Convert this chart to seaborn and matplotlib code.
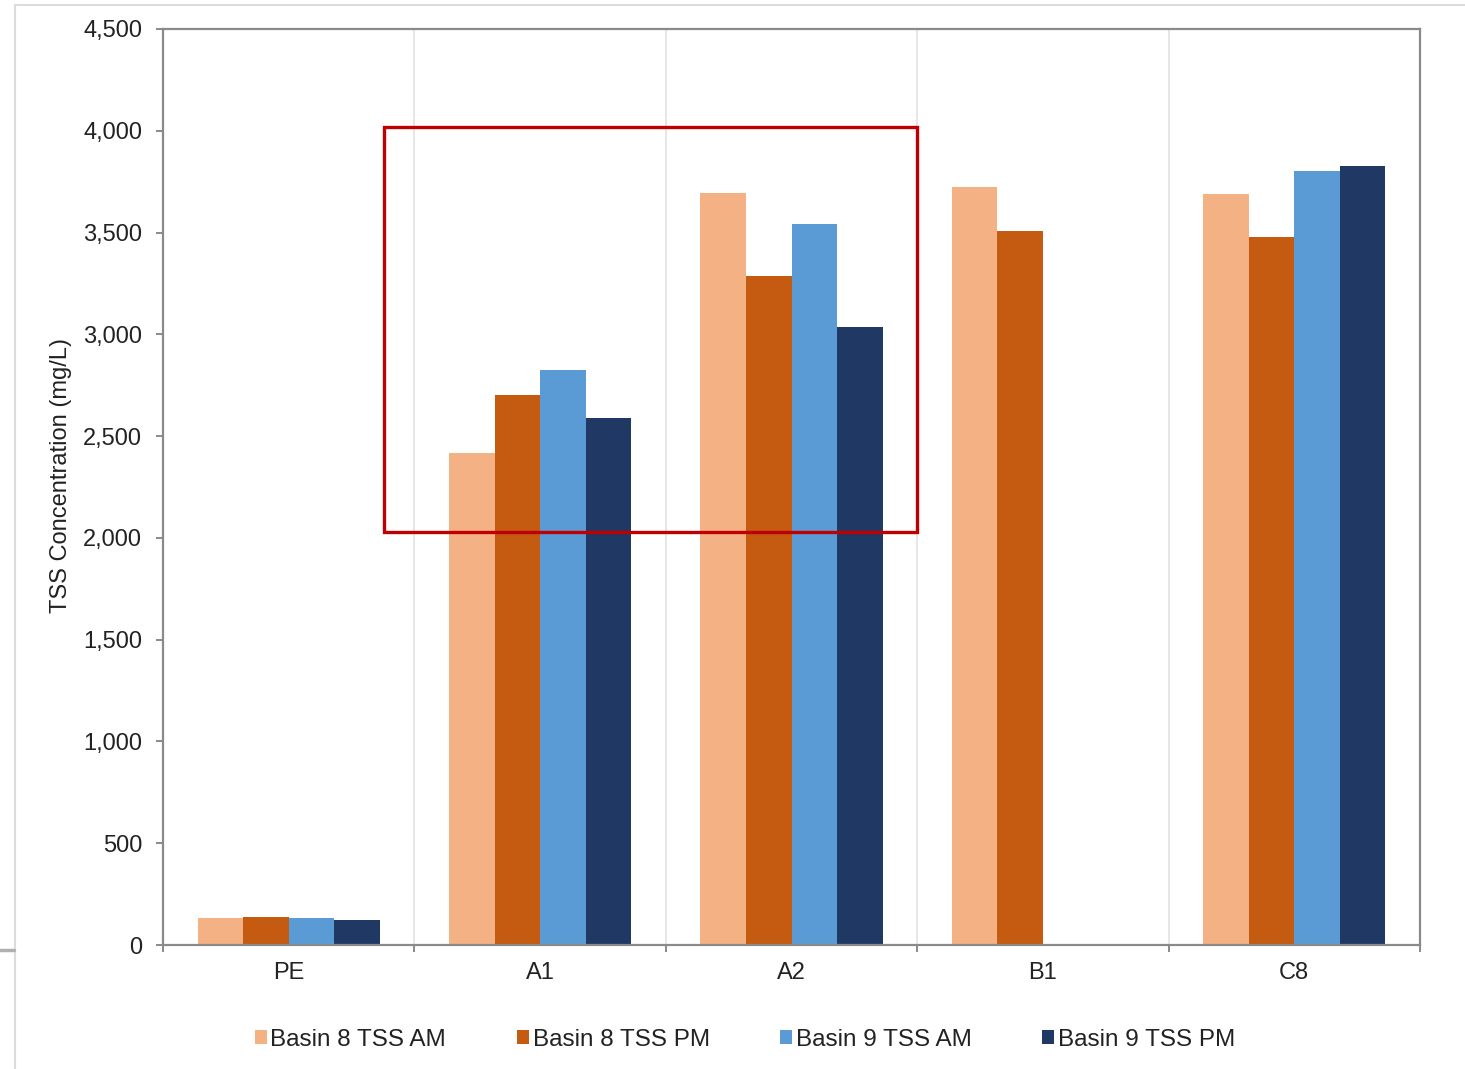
import numpy as np
import pandas as pd
import matplotlib.pyplot as plt
from matplotlib.patches import Rectangle, Patch
from matplotlib.lines import Line2D
import seaborn as sns

sites = ['PE', 'A1', 'A2', 'B1', 'C8']
series = ['Basin 8 TSS AM', 'Basin 8 TSS PM', 'Basin 9 TSS AM', 'Basin 9 TSS PM']
b8_am = [133, 2415, 3695, 3725, 3688]
b8_pm = [137, 2700, 3285, 3510, 3478]
b9_am = [132, 2825, 3540, np.nan, 3800]
b9_pm = [123, 2588, 3035, np.nan, 3825]
colors = ['#F4B183', '#C55A11', '#5B9BD5', '#1F3864']

df = pd.DataFrame({
    'site': sites * 4,
    'series': np.repeat(series, len(sites)),
    'tss': b8_am + b8_pm + b9_am + b9_pm,
})

sns.set_style('white')
plt.rcParams['font.family'] = ['Liberation Sans', 'DejaVu Sans']
txt = '#222222'
fs = 17

fig = plt.figure(figsize=(14.65, 10.69), dpi=100)
ax = fig.add_axes([163 / 1465, 1 - 945 / 1069, 1257 / 1465, 916 / 1069])

sns.barplot(data=df, x='site', y='tss', hue='series', order=sites, hue_order=series,
            palette=colors, saturation=1, width=0.725, linewidth=0, errorbar=None,
            legend=False, ax=ax)

ax.set_xlim(-0.5, 4.5)
ax.set_ylim(0, 4500)
ax.set_yticks(np.arange(0, 4501, 500))
ax.set_yticklabels([f'{v:,}' for v in range(0, 4501, 500)])
ax.set_xticks(np.arange(-0.5, 4.6, 1), minor=True)
ax.grid(False)
ax.grid(True, which='minor', axis='x', color='#E3E3E3', lw=1.2)
ax.set_axisbelow(True)

for s in ax.spines.values():
    s.set_color('#8A8A8A')
    s.set_linewidth(1.6)
ax.tick_params(axis='y', which='major', direction='out', length=5, width=1.4,
               color='#8A8A8A', pad=10, labelsize=fs, labelcolor=txt, left=True)
ax.tick_params(axis='x', which='major', length=0, pad=12, labelsize=fs, labelcolor=txt)
ax.tick_params(axis='x', which='minor', direction='out', length=5, width=1.4,
               color='#8A8A8A', bottom=True)

ax.set_xlabel('')
ax.set_ylabel('TSS Concentration (mg/L)', fontsize=fs, color=txt)
ax.yaxis.set_label_coords(-0.072, 0.513)

# highlight box around A1 and A2
ax.add_patch(Rectangle((0.38, 2030), 2.5 - 0.38, 4020 - 2030, fill=False,
                       edgecolor='#C00000', lw=2.4, zorder=5, clip_on=False))

handles = [Patch(facecolor=c, edgecolor='none') for c in colors]
fig.legend(handles, series, loc='center', bbox_to_anchor=(745 / 1465, 1 - 1040 / 1069),
           ncol=4, frameon=False, fontsize=17.5, handlelength=0.5, handleheight=0.5,
           handletextpad=0.15, columnspacing=2.9, labelcolor=txt)

# screenshot border remnants
fig.add_artist(Line2D([15 / 1465, 1], [1 - 5 / 1069] * 2, color='#DCDCDC', lw=1.5))
fig.add_artist(Line2D([15 / 1465] * 2, [0, 1 - 5 / 1069], color='#DCDCDC', lw=1.5))
fig.add_artist(Line2D([0, 14 / 1465], [1 - 950 / 1069] * 2, color='#B0B0B0', lw=2.5))

fig.savefig('out.png', dpi=100)
